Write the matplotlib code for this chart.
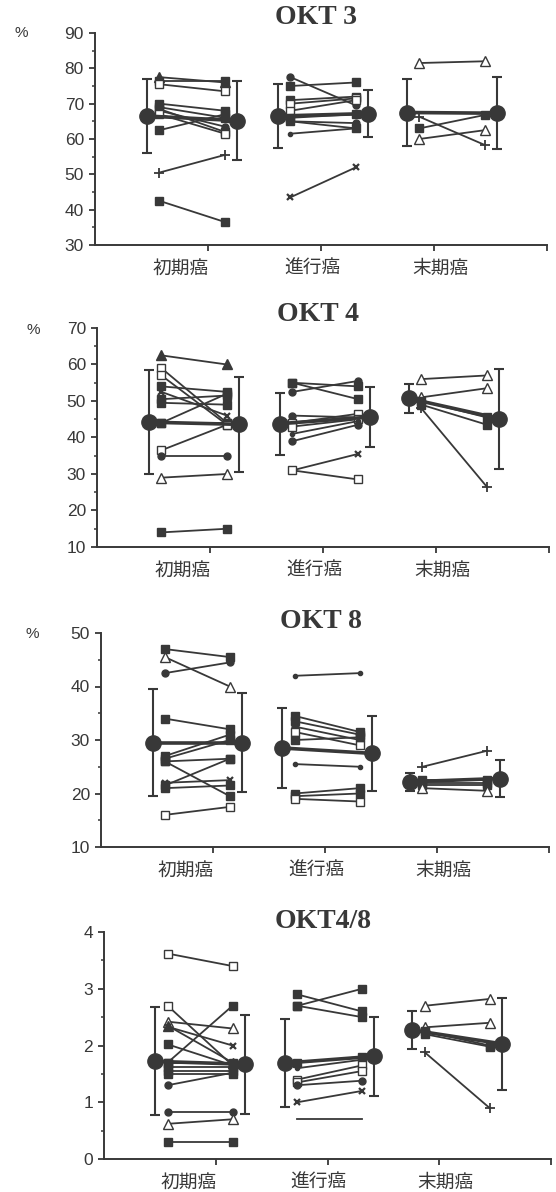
import matplotlib
matplotlib.use("Agg")
import matplotlib.pyplot as plt
from matplotlib.ticker import MultipleLocator

plt.rcParams['font.family'] = ['Liberation Sans', 'Noto Sans CJK JP']

INK = '#383838'

groups = ['初期癌', '進行癌', '末期癌']
group_x = [0.86, 2.02, 3.16]

# OKT 3 (%), pre / post per patient, one list per stage
okt3_pre = [
    [77.5, 76.5, 75.5, 70.0, 69.0, 68.5, 68.0, 67.0, 62.5, 50.5, 42.5],
    [77.5, 75.0, 71.0, 70.0, 68.0, 66.0, 65.0, 65.0, 61.5, 43.5],
    [81.5, 66.3, 63.0, 60.0],
]
okt3_post = [
    [76.0, 76.5, 73.5, 68.0, 66.0, 62.0, 63.5, 61.5, 67.0, 55.5, 36.5],
    [69.5, 76.0, 72.0, 71.5, 71.0, 67.0, 64.5, 63.0, 63.0, 52.0],
    [82.0, 58.3, 66.8, 62.5],
]
okt3_marks = [list('TSQSSSDQSPS'), list('DSSQQSDS.X'), list('APSA')]
okt3_mean_pre = [66.5, 66.5, 67.5]
okt3_mean_post = [65.2, 67.2, 67.3]
okt3_sd_pre = [10.5, 9.0, 9.5]
okt3_sd_post = [11.2, 6.7, 10.2]

# OKT 4 (%)
okt4_pre = [
    [62.5, 59.0, 57.0, 54.0, 52.5, 50.5, 49.5, 44.0, 44.0, 36.5, 35.0, 29.0, 14.0],
    [55.0, 55.0, 52.5, 46.0, 44.0, 43.0, 41.0, 39.0, 31.0, 31.0],
    [56.0, 51.0, 50.0, 49.0, 48.0],
]
okt4_post = [
    [60.0, 44.0, 43.5, 52.5, 46.0, 51.5, 49.0, 52.0, 44.0, 43.5, 35.0, 30.0, 15.0],
    [54.0, 50.5, 55.5, 45.5, 46.5, 45.0, 44.5, 43.5, 35.5, 28.5],
    [57.0, 53.5, 45.5, 43.5, 26.5],
]
okt4_marks = [list('TQQSXSSSSQDAS'), list('SSDDQQ.DXQ'), list('AASSP')]
okt4_mean_pre = [44.2, 43.8, 50.7]
okt4_mean_post = [43.6, 45.6, 45.2]
okt4_sd_pre = [14.2, 8.5, 4.0]
okt4_sd_post = [13.0, 8.3, 13.7]

# OKT 8 (%)
okt8_pre = [
    [47.0, 45.5, 42.5, 34.0, 27.0, 26.5, 26.0, 26.0, 22.0, 21.5, 21.0, 16.0],
    [42.0, 34.5, 33.5, 32.5, 31.5, 30.0, 25.5, 20.0, 19.5, 19.0],
    [25.0, 22.5, 22.0, 21.5, 21.0],
]
okt8_post = [
    [45.5, 40.0, 44.5, 32.0, 31.0, 30.0, 26.5, 19.5, 22.5, 26.5, 21.5, 17.5],
    [42.5, 31.5, 31.0, 30.0, 29.0, 30.5, 25.0, 21.0, 20.0, 18.5],
    [28.0, 22.5, 22.0, 21.5, 20.5],
]
okt8_marks = [list('SADSSSSSXSSQ'), list('.SSDQS.SSQ'), list('PSSSA')]
okt8_mean_pre = [29.5, 28.5, 22.2]
okt8_mean_post = [29.5, 27.5, 22.8]
okt8_sd_pre = [10.0, 7.5, 1.7]
okt8_sd_post = [9.3, 7.0, 3.5]

# OKT4/8 ratio
ratio_pre = [
    [3.62, 2.70, 2.42, 2.35, 2.33, 2.02, 1.70, 1.70, 1.62, 1.55, 1.50, 1.30, 0.82, 0.62, 0.30],
    [2.90, 2.70, 2.70, 1.70, 1.60, 1.40, 1.35, 1.30, 1.00, 0.70],
    [2.70, 2.32, 2.25, 2.20, 1.88],
]
ratio_post = [
    [3.40, 1.65, 2.30, 1.70, 2.00, 1.65, 2.70, 1.70, 1.62, 1.55, 1.50, 1.52, 0.82, 0.70, 0.30],
    [2.60, 3.00, 2.50, 1.80, 1.75, 1.65, 1.55, 1.38, 1.20, 0.70],
    [2.82, 2.40, 2.00, 1.98, 0.90],
]
ratio_marks = [list('QQATXSSSSSSDDAS'), list('SSSS.QQDX-'), list('AASSP')]
ratio_mean_pre = [1.72, 1.69, 2.27]
ratio_mean_post = [1.67, 1.81, 2.03]
ratio_sd_pre = [0.95, 0.78, 0.34]
ratio_sd_post = [0.87, 0.70, 0.81]

STYLE = {
    'S': dict(marker='s', mfc=INK, ms=5.5),
    'Q': dict(marker='s', mfc='white', ms=5.5),
    'T': dict(marker='^', mfc=INK, ms=6.5),
    'A': dict(marker='^', mfc='white', ms=6.5),
    'D': dict(marker='o', mfc=INK, ms=5),
    'X': dict(marker='x', ms=5, mew=1.6),
    'P': dict(marker='+', ms=7, mew=1.3),
    '.': dict(marker='o', mfc=INK, ms=3),
    '-': dict(marker='None'),
}

# title, data, y range and step, axes box in pixels (left, right, top, bottom), title offset, '%' position
panels = [
    ('OKT 3', okt3_pre, okt3_post, okt3_marks, okt3_mean_pre, okt3_mean_post,
     okt3_sd_pre, okt3_sd_post, (30, 90), 10, (95, 547, 33, 245), 11, (21, 33)),
    ('OKT 4', okt4_pre, okt4_post, okt4_marks, okt4_mean_pre, okt4_mean_post,
     okt4_sd_pre, okt4_sd_post, (10, 70), 10, (97, 549, 328, 547), 9.5, (33, 330)),
    ('OKT 8', okt8_pre, okt8_post, okt8_marks, okt8_mean_pre, okt8_mean_post,
     okt8_sd_pre, okt8_sd_post, (10, 50), 10, (101, 549, 633, 847), 8, (32, 634)),
    ('OKT4/8', ratio_pre, ratio_post, ratio_marks, ratio_mean_pre, ratio_mean_post,
     ratio_sd_pre, ratio_sd_post, (0, 4), 1, (104, 551, 932, 1159), 7.5, None),
]

W, H = 556, 1192
fig = plt.figure(figsize=(W / 100, H / 100), dpi=100)

for (title, pre, post, marks, mpre, mpost, spre, spost,
     ylim, step, box, toff, pct) in panels:
    l, r, t, b = box
    ax = fig.add_axes([l / W, 1 - b / H, (r - l) / W, (b - t) / H])

    for g, cx in enumerate(group_x):
        # individual patients, before and after
        for a, c, m in zip(pre[g], post[g], marks[g]):
            st = dict(STYLE[m])
            ax.plot([cx - 0.29, cx + 0.29], [a, c], color=INK, lw=1.3,
                    mec=INK, zorder=3, clip_on=False, **st)
        # group mean +- SD
        ax.plot([cx - 0.40, cx + 0.40], [mpre[g], mpost[g]], color=INK,
                lw=2.6, zorder=4)
        ax.errorbar([cx - 0.40, cx + 0.40], [mpre[g], mpost[g]],
                    yerr=[spre[g], spost[g]], fmt='o', ms=11, color=INK,
                    ecolor=INK, elinewidth=1.5, capsize=3.6, capthick=1.5,
                    zorder=5)
        ax.annotate(groups[g], xy=(cx - 0.1, 0), xycoords=('data', 'axes fraction'),
                    xytext=(0, -17), textcoords='offset points', ha='center',
                    va='center', fontsize=13.5, color=INK,
                    family=['Noto Sans CJK JP'])

    ax.set_xlim(0, 4)
    ax.set_ylim(*ylim)
    ax.set_xticks([1, 2, 3, 4])
    ax.set_xticklabels([])
    ax.yaxis.set_major_locator(MultipleLocator(step))
    ax.yaxis.set_minor_locator(MultipleLocator(step / 2))
    ax.tick_params(axis='both', which='major', direction='out', length=4,
                   width=1.3, color=INK, labelcolor=INK, labelsize=12.5, pad=4)
    ax.tick_params(axis='y', which='minor', direction='out', length=2.5,
                   width=1.1, color=INK)
    for side in ('top', 'right'):
        ax.spines[side].set_visible(False)
    for side in ('left', 'bottom'):
        ax.spines[side].set_linewidth(1.4)
        ax.spines[side].set_color(INK)

    ax.annotate(title, xy=(0.49, 1), xycoords='axes fraction',
                xytext=(0, toff), textcoords='offset points', ha='center',
                va='center', fontsize=20, fontweight='bold', color=INK,
                family=['Liberation Serif'])
    if pct:
        fig.text(pct[0] / W, 1 - pct[1] / H, '%', ha='center', va='center',
                 fontsize=11, color=INK)

fig.savefig('out.png', dpi=100, facecolor='white')
